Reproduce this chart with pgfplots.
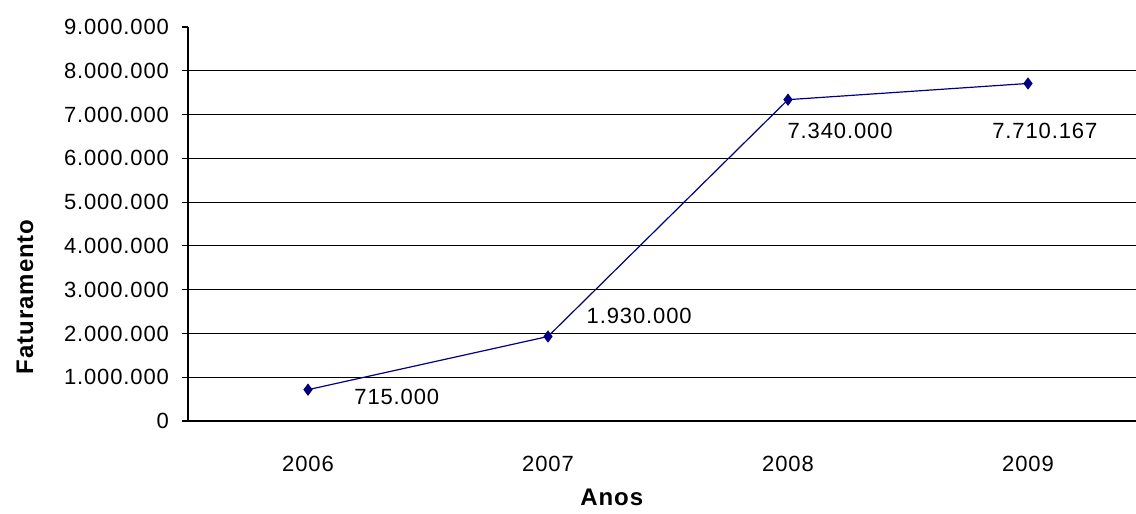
\documentclass[border=0pt]{standalone}
\usepackage{fontspec}
\setmainfont{Liberation Sans}[LetterSpace=4]
\usepackage{pgfplots}
\pgfplotsset{compat=1.18}
\definecolor{navy}{RGB}{0,0,128}
\begin{document}
\begin{tikzpicture}
\useasboundingbox (0,0) rectangle (568pt,257pt);
\begin{axis}[
  at={(94pt,46.5pt)}, anchor=south west,
  scale only axis, width=474pt, height=197pt,
  xmin=-0.5, xmax=3.45, ymin=0, ymax=9000000,
  axis x line*=bottom, axis y line*=left,
  axis line style={black, line width=0.7pt},
  tick align=outside,
  xtick={0,1,2,3},
  xticklabels={2006,2007,2008,2009},
  xtick style={draw=none},
  extra x ticks={0.5,1.5,2.5},
  extra x tick labels={},
  extra x tick style={tick style={draw=black, line width=0.6pt}, major tick length=3pt},
  ytick={0,1000000,2000000,3000000,4000000,5000000,6000000,7000000,8000000,9000000},
  yticklabels={0,1.000.000,2.000.000,3.000.000,4.000.000,5.000.000,6.000.000,7.000.000,8.000.000,9.000.000},
  ytick style={draw=black, line width=0.6pt},
  major tick length=3pt,
  extra y ticks={1000000,2000000,3000000,4000000,5000000,6000000,7000000,8000000},
  extra y tick labels={},
  extra y tick style={grid=major, major tick length=0pt},
  major grid style={black, line width=0.6pt},
  scaled y ticks=false,
  /pgf/number format/assume math mode=true,
  ticklabel style={font=\fontsize{11}{13}\selectfont},
  yticklabel style={xshift=-3pt},
  xticklabel style={yshift=-11pt},
  ylabel={Faturamento},
  ylabel style={at={(rel axis cs:-0.172,0.315)}, anchor=center, font=\bfseries\fontsize{12}{14}\selectfont},
  xlabel={Anos},
  xlabel style={at={(rel axis cs:0.447,-0.193)}, anchor=center, font=\bfseries\fontsize{12}{14}\selectfont},
  clip=false,
]
\addplot[navy, line width=0.6pt, mark=diamond*, mark size=2.6pt, mark options={fill=navy, draw=navy}]
  coordinates {(0,715000) (1,1930000) (2,7340000) (3,7710167)};
\node[font=\fontsize{11}{13}\selectfont] at (axis cs:0.37,555000) {715.000};
\node[font=\fontsize{11}{13}\selectfont] at (axis cs:1.38,2400000) {1.930.000};
\node[font=\fontsize{11}{13}\selectfont] at (axis cs:2.217,6620000) {7.340.000};
\node[font=\fontsize{11}{13}\selectfont] at (axis cs:3.07,6620000) {7.710.167};
\end{axis}
\end{tikzpicture}
\end{document}
